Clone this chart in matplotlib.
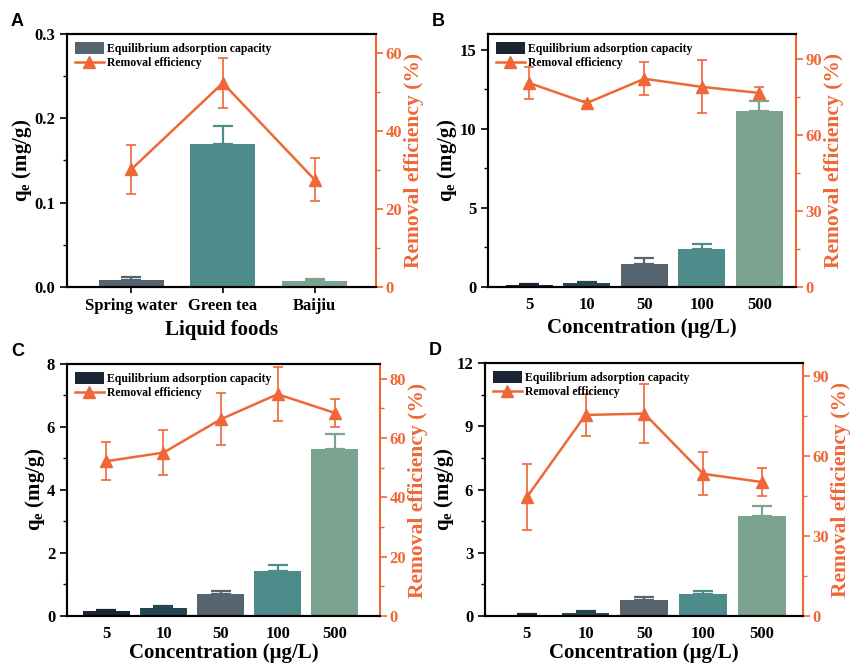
#!/usr/bin/env python3
"""Adsorption capacity and removal efficiency panels"""

import matplotlib
matplotlib.use('Agg')
import matplotlib.pyplot as plt
from matplotlib.ticker import MultipleLocator

ORANGE = '#ef6737'
NAVY = '#1b2433'
DARK_TEAL = '#234652'
SLATE = '#56646f'
TEAL = '#4e8b8b'
SAGE = '#7ca38f'

# panel A: liquid foods
foods = ['Spring water', 'Green tea', 'Baijiu']
qe_a = [0.008, 0.170, 0.007]
qe_a_err = [0.004, 0.021, 0.003]
re_a = [30.2, 52.4, 27.6]
re_a_err = [6.3, 6.4, 5.5]

# panels B-D: spiking concentration
conc = ['5', '10', '50', '100', '500']
qe_b = [0.15, 0.27, 1.48, 2.43, 11.16]
qe_b_err = [0.06, 0.03, 0.36, 0.29, 0.61]
re_b = [80.6, 72.7, 82.3, 79.1, 76.7]
re_b_err = [6.3, 1.0, 6.6, 10.5, 2.5]

qe_c = [0.16, 0.26, 0.70, 1.44, 5.29]
qe_c_err = [0.04, 0.05, 0.10, 0.17, 0.48]
re_c = [52.2, 55.1, 66.3, 74.8, 68.5]
re_c_err = [6.5, 7.7, 8.8, 9.1, 4.6]

qe_d = [0.06, 0.16, 0.76, 1.06, 4.73]
qe_d_err = [0.05, 0.06, 0.14, 0.11, 0.47]
re_d = [44.6, 75.5, 76.0, 53.4, 50.3]
re_d_err = [12.4, 8.0, 11.1, 8.1, 5.3]

plt.rcParams['font.family'] = ['Liberation Serif', 'DejaVu Serif']
plt.rcParams['font.weight'] = 'bold'
plt.rcParams['axes.linewidth'] = 1.5
plt.rcParams['mathtext.fontset'] = 'custom'
plt.rcParams['mathtext.rm'] = 'Liberation Serif:bold'
plt.rcParams['mathtext.it'] = 'Liberation Serif:bold'
plt.rcParams['mathtext.bf'] = 'Liberation Serif:bold'


def draw_panel(rect, letter, cats, qe, qe_err, re, re_err, colors, xlabel,
               qlim, qmaj, qmin, rlim, rmaj, rmin, xlim, width, xticks=False,
               xlabelpad=4):
  ax = fig.add_axes(rect)
  x = list(range(len(cats)))
  bars = ax.bar(x, qe, width=width, color=colors, edgecolor='none', zorder=2)
  for xi, q, e, c in zip(x, qe, qe_err, colors):
    ax.errorbar(xi, q, yerr=[[0], [e]], fmt='none', ecolor=c, elinewidth=1.6,
                capsize=7, capthick=1.6, zorder=3)
  ax.set_xlim(*xlim)
  ax.set_ylim(*qlim)
  ax.set_xticks(x)
  ax.set_xticklabels(cats, fontsize=12, fontweight='bold')
  ax.tick_params(axis='x', length=4 if xticks else 0, width=1.2,
                 pad=4 if xticks else 7)
  ax.yaxis.set_major_locator(MultipleLocator(qmaj))
  ax.yaxis.set_minor_locator(MultipleLocator(qmin))
  ax.tick_params(axis='y', which='major', direction='out', length=5, width=1.2,
                 labelsize=12)
  ax.tick_params(axis='y', which='minor', direction='out', length=3, width=1.0)
  ax.spines['right'].set_visible(False)
  ax.set_ylabel(r'q$_\mathbf{e}$ (mg/g)', fontsize=15, fontweight='bold',
                labelpad=0)
  ax.set_xlabel(xlabel, fontsize=15, fontweight='bold', labelpad=xlabelpad)

  ax2 = ax.twinx()
  line, = ax2.plot(x, re, color=ORANGE, lw=1.8, marker='^', ms=8, zorder=4)
  ax2.errorbar(x, re, yerr=re_err, fmt='none', ecolor=ORANGE, elinewidth=1.2,
               capsize=3.5, capthick=1.2, zorder=4)
  ax2.set_ylim(*rlim)
  ax2.yaxis.set_major_locator(MultipleLocator(rmaj))
  ax2.yaxis.set_minor_locator(MultipleLocator(rmin))
  ax2.spines['right'].set_color(ORANGE)
  ax2.spines['right'].set_linewidth(1.5)
  ax2.tick_params(axis='y', which='major', direction='out', length=5,
                  width=1.2, colors=ORANGE, labelsize=12, pad=2)
  ax2.tick_params(axis='y', which='minor', direction='out', length=3,
                  width=1.0, colors=ORANGE)
  ax2.set_ylabel('Removal efficiency (%)', color=ORANGE, fontsize=15.5,
                 fontweight='bold', labelpad=1)

  ax2.legend([bars[0], line],
             ['Equilibrium adsorption capacity', 'Removal efficiency'],
             loc='upper left', bbox_to_anchor=(0.0, 1.0), frameon=False,
             prop={'size': 8.5, 'weight': 'bold'}, handlelength=2.4,
             handleheight=1.1, handletextpad=0.3, labelspacing=0.15,
             borderaxespad=0.3)

  fig.text(rect[0] - 0.066, rect[1] + rect[3] + 0.012, letter,
           fontsize=13, fontweight='bold', family='Liberation Sans')
  return ax


fig = plt.figure(figsize=(8.5, 6.65), dpi=100)

cat_colors = [NAVY, DARK_TEAL, SLATE, TEAL, SAGE]

draw_panel([0.0788, 0.5684, 0.3635, 0.3805], 'A', foods, qe_a, qe_a_err,
           re_a, re_a_err, [SLATE, TEAL, SAGE], 'Liquid foods',
           (0, 0.3), 0.1, 0.05, (0, 65), 20, 10, (-0.70, 2.67), 0.71,
           xticks=True)
draw_panel([0.5741, 0.5684, 0.3624, 0.3805], 'B', conc, qe_b, qe_b_err,
           re_b, re_b_err, cat_colors, 'Concentration (μg/L)',
           (0, 16), 5, 2.5, (0, 100), 30, 15, (-0.72, 4.64), 0.82)
draw_panel([0.0788, 0.0737, 0.3680, 0.3790], 'C', conc, qe_c, qe_c_err,
           re_c, re_c_err, cat_colors, 'Concentration (μg/L)',
           (0, 8), 2, 1, (0, 85), 20, 10, (-0.69, 4.79), 0.82, xlabelpad=1)
draw_panel([0.5706, 0.0737, 0.3741, 0.3804], 'D', conc, qe_d, qe_d_err,
           re_d, re_d_err, cat_colors, 'Concentration (μg/L)',
           (0, 12), 3, 1.5, (0, 95), 30, 15, (-0.71, 4.70), 0.81, xlabelpad=1)

fig.savefig('out.png', dpi=100)
